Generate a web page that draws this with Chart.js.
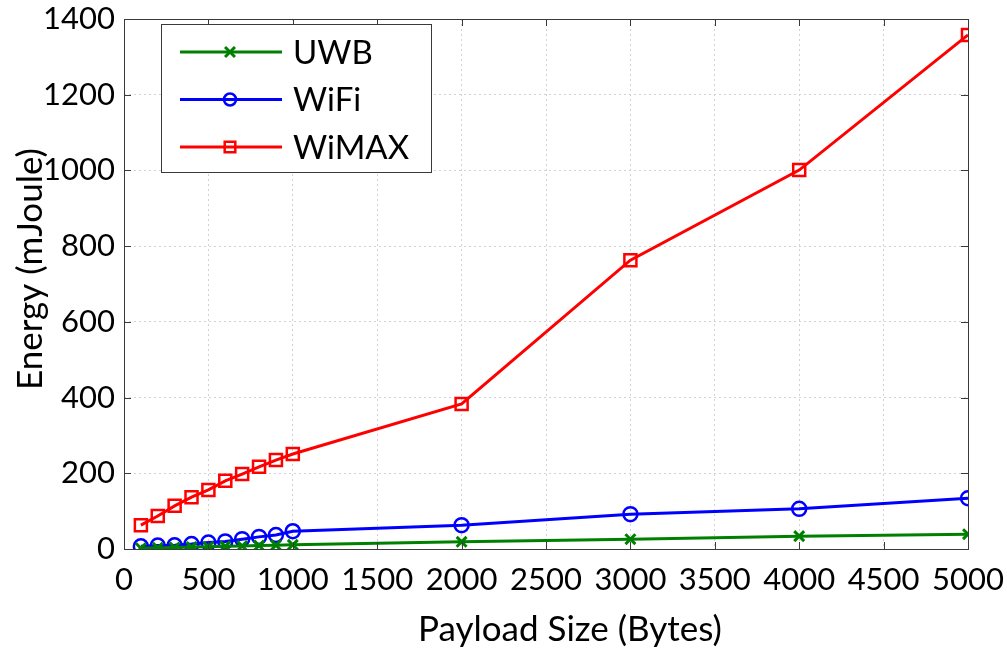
<!DOCTYPE html>
<html>
<head>
<meta charset="utf-8">
<script src="https://cdn.jsdelivr.net/npm/chart.js@4/dist/chart.umd.min.js"></script>
<style>
  html, body { margin: 0; padding: 0; background: #fff; }
  #wrap { width: 1007px; height: 651px; }
</style>
</head>
<body>
<div id="wrap"><canvas id="c" width="1007" height="651"></canvas></div>
<script>
// Payload sizes (bytes)
const payloadSizes = [100, 200, 300, 400, 500, 600, 700, 800, 900, 1000, 2000, 3000, 4000, 5000];
// Energy per technology (mJoule)
const uwbEnergy   = [2, 3, 4, 5, 6, 7, 8, 9, 10, 11, 19, 26, 34, 39];
const wifiEnergy  = [7, 9, 10, 13, 17, 20, 26, 32, 37, 47, 63, 92, 106, 134];
const wimaxEnergy = [63, 87, 114, 137, 156, 180, 198, 217, 235, 251, 383, 763, 1001, 1358];
const seriesNames = ['UWB', 'WiFi', 'WiMAX'];
const xTitle = 'Payload Size (Bytes)';
const yTitle = 'Energy (mJoule)';

const FONT = 'Lato, "Liberation Sans", sans-serif';
const pts = ys => payloadSizes.map((x, i) => ({ x, y: ys[i] }));

// Box around the plot with inward tick marks
const framePlugin = {
  id: 'frame',
  afterDatasetsDraw(chart) {
    const { ctx, chartArea: a, scales } = chart;
    ctx.save();
    ctx.strokeStyle = '#3a3a3a';
    ctx.lineWidth = 1;
    ctx.strokeRect(a.left + 0.5, a.top + 0.5, a.right - a.left, a.bottom - a.top);
    const L = 7;
    ctx.beginPath();
    scales.x.ticks.forEach(t => {
      const px = Math.round(scales.x.getPixelForValue(t.value)) + 0.5;
      ctx.moveTo(px, a.bottom); ctx.lineTo(px, a.bottom - L);
      ctx.moveTo(px, a.top); ctx.lineTo(px, a.top + L);
    });
    scales.y.ticks.forEach(t => {
      const py = Math.round(scales.y.getPixelForValue(t.value)) + 0.5;
      ctx.moveTo(a.left, py); ctx.lineTo(a.left + L, py);
      ctx.moveTo(a.right, py); ctx.lineTo(a.right - L, py);
    });
    ctx.stroke();
    ctx.restore();
  }
};

// Axis titles
const axisTitlePlugin = {
  id: 'axisTitles',
  afterDraw(chart) {
    const { ctx } = chart;
    ctx.save();
    ctx.fillStyle = '#000';
    ctx.font = '35px ' + FONT;
    ctx.textAlign = 'center';
    ctx.textBaseline = 'middle';
    ctx.fillText(xTitle, 570, 630);
    ctx.translate(31, 269);
    ctx.rotate(-Math.PI / 2);
    ctx.fillText(yTitle, 0, 0);
    ctx.restore();
  }
};

// Legend drawn in a bordered box in the upper-left of the plot
const boxLegendPlugin = {
  id: 'boxLegend',
  afterDraw(chart) {
    const { ctx } = chart;
    const x0 = 161, y0 = 24, w = 270, h = 148;
    ctx.save();
    ctx.fillStyle = '#fff';
    ctx.fillRect(x0, y0, w, h);
    ctx.strokeStyle = '#3a3a3a';
    ctx.lineWidth = 1;
    ctx.strokeRect(x0 + 0.5, y0 + 0.5, w, h);
    chart.data.datasets.forEach((ds, i) => {
      const cy = y0 + 28 + i * 47.5;
      ctx.strokeStyle = ds.borderColor;
      ctx.lineWidth = 3;
      ctx.beginPath();
      ctx.moveTo(180, cy); ctx.lineTo(282, cy);
      ctx.stroke();
      ctx.fillStyle = 'rgba(0,0,0,0)';
      ctx.strokeStyle = ds.borderColor;
      ctx.lineWidth = ds.pointBorderWidth;
      Chart.helpers.drawPoint(ctx, {
        pointStyle: ds.pointStyle,
        radius: ds.legendRadius,
        rotation: 0,
        borderWidth: ds.pointBorderWidth
      }, 230, cy);
      ctx.fillStyle = '#000';
      ctx.font = '33px ' + FONT;
      ctx.textBaseline = 'middle';
      ctx.textAlign = 'left';
      ctx.fillText(ds.label, 293, cy + 1);
    });
    ctx.restore();
  }
};

const mk = (label, ys, color, style, r, bw, lr) => ({
  label, data: pts(ys),
  borderColor: color, backgroundColor: 'rgba(0,0,0,0)',
  borderWidth: 3,
  pointStyle: style, pointRadius: r, pointBorderWidth: bw, legendRadius: lr,
  pointBorderColor: color, pointBackgroundColor: 'rgba(0,0,0,0)',
  tension: 0
});

const plainTick = v => String(v);

new Chart(document.getElementById('c'), {
  type: 'line',
  data: {
    datasets: [
      mk(seriesNames[0], uwbEnergy, '#008000', 'crossRot', 7, 3, 7),
      mk(seriesNames[1], wifiEnergy, '#0000ff', 'circle', 7, 2.5, 6),
      mk(seriesNames[2], wimaxEnergy, '#ff0000', 'rect', 8.5, 2.5, 7.5)
    ]
  },
  options: {
    responsive: false,
    animation: false,
    devicePixelRatio: 1,
    layout: { padding: { left: 0, top: 19, right: 39, bottom: 0 } },
    plugins: { legend: { display: false }, tooltip: { enabled: false } },
    scales: {
      x: {
        type: 'linear', min: 0, max: 5000,
        ticks: { stepSize: 500, color: '#000', font: { family: FONT, size: 31 }, padding: 12, maxRotation: 0, callback: plainTick },
        grid: { color: '#d2d2d2', drawTicks: false, lineWidth: 1 },
        border: { display: false, dash: [2, 3] },
        afterFit: s => { s.height = 102; s.paddingLeft = 0; s.paddingRight = 0; }
      },
      y: {
        min: 0, max: 1400,
        ticks: { stepSize: 200, color: '#000', font: { family: FONT, size: 31 }, padding: 9, callback: plainTick },
        grid: { color: '#d2d2d2', drawTicks: false, lineWidth: 1 },
        border: { display: false, dash: [2, 3] },
        afterFit: s => { s.width = 124; s.paddingTop = 0; s.paddingBottom = 0; }
      }
    }
  },
  plugins: [framePlugin, axisTitlePlugin, boxLegendPlugin]
});
</script>
</body>
</html>
